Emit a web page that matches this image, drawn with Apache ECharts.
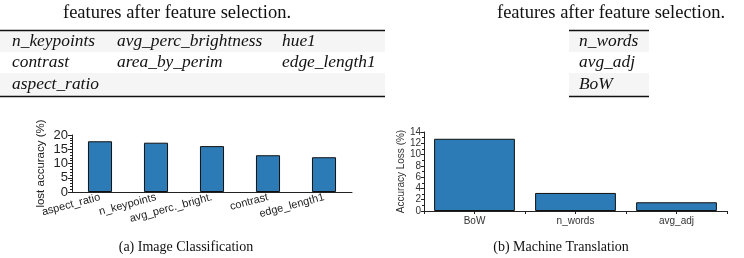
<!DOCTYPE html>
<html>
<head>
<meta charset="utf-8">
<script src="https://cdn.jsdelivr.net/npm/echarts@6/dist/echarts.min.js"></script>
<style>
html,body{margin:0;padding:0;background:#fff;}
#c{width:744px;height:258px;}
</style>
</head>
<body>
<div id="c"></div>
<script>
// ---- data ----
var imgCategories = ['aspect_ratio', 'n_keypoints', 'avg_perc._bright.', 'contrast', 'edge_length1'];
var imgValues = [17.8, 17.3, 16.1, 12.9, 12.2];
var imgTicks = [0, 5, 10, 15, 20];

var mtCategories = ['BoW', 'n_words', 'avg_adj'];
var mtValues = [12.8, 3.2, 1.55];
var mtTicks = [0, 2, 4, 6, 8, 10, 12, 14];

var tableTitle = 'features after feature selection.';
var imgTableRows = [
  ['n_keypoints', 'avg_perc_brightness', 'hue1'],
  ['contrast', 'area_by_perim', 'edge_length1'],
  ['aspect_ratio', '', '']
];
var mtTableRows = ['n_words', 'avg_adj', 'BoW'];
var captionA = '(a) Image Classification';
var captionB = '(b) Machine Translation';

// ---- chart ----
var SANS = '"Liberation Sans", Arial, sans-serif';
var SERIF = '"Liberation Serif", "DejaVu Serif", serif';
var BAR = '#2c7bb6';
var AX = '#222';

var graphics = [];
// titles
graphics.push({type:'text', x:177, y:13, style:{text:tableTitle, font:'18.5px ' + SERIF, fill:'#111', align:'center', verticalAlign:'middle'}});
graphics.push({type:'text', x:611, y:13, style:{text:tableTitle, font:'18.5px ' + SERIF, fill:'#111', align:'center', verticalAlign:'middle'}});
// tables
var rowY = [31, 52, 73, 96];
var colX = [12, 117, 282];
[0, 2].forEach(function(r){
  graphics.push({type:'rect', shape:{x:0, y:rowY[r], width:385, height:rowY[r+1]-rowY[r]}, style:{fill:'#f5f5f5'}});
  graphics.push({type:'rect', shape:{x:569, y:rowY[r], width:80, height:rowY[r+1]-rowY[r]}, style:{fill:'#f5f5f5'}});
});
imgTableRows.forEach(function(row, r){
  row.forEach(function(t, c){
    if (!t) return;
    graphics.push({type:'text', x:colX[c], y:(rowY[r]+rowY[r+1])/2, style:{text:t, font:'italic 17.4px ' + SERIF, fill:'#111', verticalAlign:'middle'}});
  });
});
mtTableRows.forEach(function(t, r){
  graphics.push({type:'text', x:579, y:(rowY[r]+rowY[r+1])/2, style:{text:t, font:'italic 17.4px ' + SERIF, fill:'#111', verticalAlign:'middle'}});
});
[[0,385],[569,649]].forEach(function(s){
  graphics.push({type:'line', shape:{x1:s[0], y1:30.5, x2:s[1], y2:30.5}, style:{stroke:'#111', lineWidth:1.5}});
  graphics.push({type:'line', shape:{x1:s[0], y1:96.5, x2:s[1], y2:96.5}, style:{stroke:'#111', lineWidth:1.5}});
});
// captions
graphics.push({type:'text', x:186, y:247, style:{text:captionA, font:'14px ' + SERIF, fill:'#111', align:'center', verticalAlign:'middle'}});
graphics.push({type:'text', x:561, y:247, style:{text:captionB, font:'14px ' + SERIF, fill:'#111', align:'center', verticalAlign:'middle'}});

var option = {
  animation: false,
  backgroundColor: '#fff',
  graphic: graphics,
  grid: [
    {left:72, top:135, width:280, height:57, containLabel:false},
    {left:424, top:132, width:303, height:79, containLabel:false}
  ],
  xAxis: [
    {type:'category', gridIndex:0, data:imgCategories,
     axisLine:{lineStyle:{color:AX, width:1}}, axisTick:{show:false},
     axisLabel:{rotate:15, fontSize:11, fontFamily:SANS, color:'#222', margin:5, interval:0}},
    {type:'category', gridIndex:1, data:mtCategories,
     axisLine:{lineStyle:{color:AX, width:1}}, axisTick:{show:true, alignWithLabel:true, length:3, lineStyle:{color:AX}},
     axisLabel:{fontSize:10, fontFamily:SANS, color:'#333', margin:5, interval:0}},
    {type:'category', gridIndex:1, data:mtCategories, position:'bottom',
     axisLine:{show:false}, axisTick:{show:true, length:3, lineStyle:{color:AX}},
     axisLabel:{show:false}}
  ],
  yAxis: [
    {type:'value', gridIndex:0, min:imgTicks[0], max:imgTicks[imgTicks.length-1], interval:imgTicks[1]-imgTicks[0],
     name:'lost accuracy (%)', nameLocation:'middle', nameGap:25, nameRotate:90,
     nameTextStyle:{fontSize:11.5, fontFamily:SANS, color:'#222'},
     axisLine:{show:true, lineStyle:{color:AX, width:1}},
     axisTick:{show:true, length:4, lineStyle:{color:AX}},
     minorTick:{show:true, splitNumber:5, length:2, lineStyle:{color:AX}},
     splitLine:{show:false},
     axisLabel:{fontSize:13, fontFamily:SANS, color:'#222', margin:4}},
    {type:'value', gridIndex:1, min:mtTicks[0], max:mtTicks[mtTicks.length-1], interval:mtTicks[1]-mtTicks[0],
     name:'Accuracy Loss (%)', nameLocation:'middle', nameGap:18, nameRotate:90,
     nameTextStyle:{fontSize:10, fontFamily:SANS, color:'#333'},
     axisLine:{show:true, lineStyle:{color:AX, width:1}},
     axisTick:{show:true, length:3, lineStyle:{color:AX}},
     minorTick:{show:true, splitNumber:2, length:2, lineStyle:{color:AX}},
     splitLine:{show:false},
     axisLabel:{fontSize:10, fontFamily:SANS, color:'#333', margin:3}}
  ],
  series: [
    {type:'bar', xAxisIndex:0, yAxisIndex:0, data:imgValues, barWidth:'43%',
     itemStyle:{color:BAR, borderColor:'#111', borderWidth:1}},
    {type:'bar', xAxisIndex:1, yAxisIndex:1, data:mtValues, barWidth:'80%',
     itemStyle:{color:BAR, borderColor:'#111', borderWidth:1}}
  ]
};
var chart = echarts.init(document.getElementById('c'), null, {renderer:'canvas'});
chart.setOption(option);
</script>
</body>
</html>
